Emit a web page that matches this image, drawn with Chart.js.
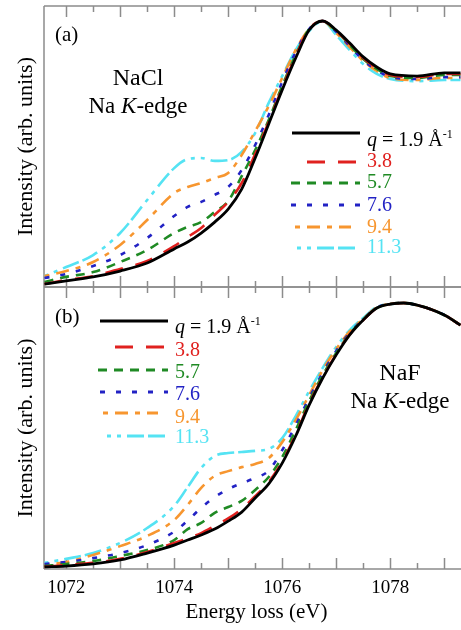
<!DOCTYPE html>
<html>
<head>
<meta charset="utf-8">
<title>Na K-edge spectra</title>
<script src="https://cdn.jsdelivr.net/npm/chart.js@4.4.1/dist/chart.umd.min.js"></script>
<style>
  html, body { margin: 0; padding: 0; background: #fff; }
  #wrap { position: relative; width: 461px; height: 630px; overflow: hidden; }
  canvas { position: absolute; left: 0; }
  #chartA { top: 0; }
  #chartB { top: 280px; }
</style>
</head>
<body>
<div id="wrap">
  <canvas id="chartA" width="461" height="300"></canvas>
  <canvas id="chartB" width="461" height="350"></canvas>
</div>
<script>
// Energy loss grids (eV)
const energyNaCl = [1071.6, 1072.0, 1072.5, 1073.0, 1073.5, 1074.0, 1074.25, 1074.5, 1074.75, 1075.0,
  1075.25, 1075.5, 1075.75, 1076.0, 1076.25, 1076.5, 1076.75, 1077.0, 1077.25, 1077.5,
  1077.75, 1078.0, 1078.5, 1079.0, 1079.3];
const energyNaF = [1071.6, 1072.0, 1072.5, 1073.0, 1073.5, 1074.0, 1074.25, 1074.5, 1074.75, 1075.0,
  1075.25, 1075.5, 1075.75, 1076.0, 1076.25, 1076.5, 1076.75, 1077.0, 1077.25, 1077.5,
  1077.75, 1078.0, 1078.25, 1078.5, 1079.0, 1079.3];

// momentum transfer q (1/Å)
const qValues = ['1.9', '3.8', '5.7', '7.6', '9.4', '11.3'];

// NaCl, normalised intensity per q
const naclQ19 = [0.011, 0.023, 0.038, 0.060, 0.090, 0.143, 0.169, 0.203, 0.244, 0.293, 0.368, 0.485, 0.613, 0.741, 0.861, 0.966, 1.000, 0.966, 0.917, 0.865, 0.827, 0.801, 0.793, 0.805, 0.805];
const naclQ38 = [0.011, 0.026, 0.041, 0.068, 0.098, 0.154, 0.188, 0.222, 0.271, 0.320, 0.391, 0.500, 0.620, 0.748, 0.868, 0.970, 1.000, 0.962, 0.914, 0.861, 0.823, 0.797, 0.789, 0.801, 0.801];
const naclQ57 = [0.019, 0.038, 0.056, 0.094, 0.139, 0.203, 0.226, 0.244, 0.282, 0.323, 0.417, 0.515, 0.628, 0.756, 0.872, 0.970, 1.000, 0.962, 0.910, 0.857, 0.820, 0.793, 0.786, 0.797, 0.797];
const naclQ76 = [0.034, 0.049, 0.079, 0.120, 0.184, 0.267, 0.301, 0.320, 0.346, 0.376, 0.440, 0.534, 0.647, 0.771, 0.883, 0.970, 1.000, 0.959, 0.906, 0.853, 0.816, 0.789, 0.782, 0.789, 0.789];
const naclQ94 = [0.041, 0.060, 0.094, 0.158, 0.252, 0.353, 0.376, 0.391, 0.410, 0.429, 0.496, 0.586, 0.680, 0.786, 0.891, 0.970, 1.000, 0.955, 0.902, 0.850, 0.812, 0.786, 0.778, 0.786, 0.786];
const naclQ113 = [0.041, 0.075, 0.120, 0.203, 0.327, 0.447, 0.481, 0.485, 0.474, 0.477, 0.508, 0.579, 0.692, 0.793, 0.891, 0.962, 1.000, 0.947, 0.891, 0.838, 0.801, 0.782, 0.774, 0.778, 0.778];

// NaF, normalised intensity per q
const nafQ19 = [0.008, 0.011, 0.019, 0.034, 0.060, 0.090, 0.109, 0.128, 0.150, 0.180, 0.214, 0.267, 0.320, 0.398, 0.500, 0.617, 0.718, 0.805, 0.880, 0.936, 0.981, 0.996, 1.000, 0.992, 0.955, 0.917];
const nafQ38 = [0.008, 0.015, 0.023, 0.038, 0.064, 0.098, 0.115, 0.135, 0.162, 0.190, 0.226, 0.274, 0.327, 0.404, 0.506, 0.622, 0.721, 0.808, 0.882, 0.936, 0.981, 0.996, 1.000, 0.992, 0.955, 0.917];
const nafQ57 = [0.011, 0.019, 0.030, 0.049, 0.071, 0.109, 0.150, 0.173, 0.211, 0.233, 0.256, 0.297, 0.346, 0.421, 0.523, 0.632, 0.729, 0.812, 0.884, 0.938, 0.981, 0.996, 1.000, 0.992, 0.955, 0.917];
const nafQ76 = [0.019, 0.026, 0.041, 0.060, 0.090, 0.140, 0.182, 0.230, 0.270, 0.300, 0.323, 0.342, 0.370, 0.447, 0.541, 0.643, 0.737, 0.820, 0.888, 0.938, 0.983, 0.996, 1.000, 0.992, 0.955, 0.917];
const nafQ94 = [0.015, 0.026, 0.053, 0.086, 0.124, 0.184, 0.241, 0.305, 0.350, 0.368, 0.383, 0.395, 0.417, 0.477, 0.560, 0.654, 0.748, 0.827, 0.893, 0.940, 0.983, 0.996, 1.000, 0.992, 0.955, 0.917];
const nafQ113 = [0.023, 0.038, 0.060, 0.098, 0.154, 0.237, 0.308, 0.380, 0.425, 0.436, 0.440, 0.444, 0.451, 0.492, 0.575, 0.669, 0.756, 0.835, 0.898, 0.944, 0.985, 0.996, 1.000, 0.992, 0.955, 0.917];

const xTickLabels = [1072, 1074, 1076, 1078];

// line styles, one per q
const colors = ['#000000', '#e0211f', '#1f8a24', '#2222c4', '#f7962f', '#55e3f3'];
const dashes = [[], [18, 13], [9, 7], [5, 11], [5, 7, 13, 7], [4, 6, 4, 6, 17, 4, 17, 6]];

const SERIF = '"Liberation Serif", "Times New Roman", serif';
const FRAME = '#8c8c8c';

function makeDatasets(energy, series) {
    return series.map((vals, i) => ({
        label: qValues[i],
        data: energy.map((e, k) => ({ x: e, y: vals[k] })),
        borderColor: colors[i],
        borderDash: dashes[i],
        borderWidth: i === 0 ? 2.8 : 2.6,
        pointRadius: 0,
        cubicInterpolationMode: 'monotone',
        fill: false
    }));
}

// draws a run of text pieces (italic / superscript) from a baseline
function drawParts(ctx, parts, x, y, align, size, color) {
    const fontFor = p => (p.italic ? 'italic ' : '') + (p.sup ? Math.round(size * 0.62) : size) + 'px ' + SERIF;
    let total = 0;
    parts.forEach(p => { ctx.font = fontFor(p); p.w = ctx.measureText(p.t).width; total += p.w; });
    let cx = align === 'center' ? x - total / 2 : x;
    ctx.fillStyle = color;
    ctx.textAlign = 'left';
    ctx.textBaseline = 'alphabetic';
    parts.forEach(p => {
        ctx.font = fontFor(p);
        ctx.fillText(p.t, cx, p.sup ? y - size * 0.42 : y);
        cx += p.w;
    });
}

const panelDecor = {
    id: 'panelDecor',
    beforeDatasetsDraw(chart) {
        const { ctx, chartArea: a, scales: { x } } = chart;
        ctx.save();
        ctx.strokeStyle = FRAME;
        ctx.lineWidth = 1.5;
        ctx.beginPath();
        ctx.moveTo(a.left, a.top); ctx.lineTo(a.left, a.bottom);
        ctx.moveTo(a.left, a.top); ctx.lineTo(a.right + 2, a.top);
        ctx.moveTo(a.left, a.bottom); ctx.lineTo(a.right + 2, a.bottom);
        // inward ticks, long on whole eV, short on half eV
        for (let e = 1072; e <= 1079; e += 0.5) {
            const px = Math.round(x.getPixelForValue(e)) + 0.5;
            const len = Number.isInteger(e) ? 11 : 6;
            ctx.moveTo(px, a.top); ctx.lineTo(px, a.top + len);
            ctx.moveTo(px, a.bottom); ctx.lineTo(px, a.bottom - len);
        }
        ctx.stroke();
        ctx.restore();
    },
    afterDraw(chart, args, opts) {
        const { ctx, chartArea: a, scales: { x } } = chart;
        ctx.save();
        // panel tag and compound name
        drawParts(ctx, [{ t: opts.tag }], 55, opts.tagY, 'left', 21, '#000');
        drawParts(ctx, [{ t: opts.compound }], opts.nameX, opts.nameY, 'center', 24, '#000');
        drawParts(ctx, [{ t: 'Na ' }, { t: 'K', italic: true }, { t: '-edge' }], opts.nameX, opts.nameY + 28, 'center', 23, '#000');
        // legend
        const lg = opts.legend;
        chart.data.datasets.forEach((ds, i) => {
            const row = lg.rows[i];
            ctx.save();
            ctx.strokeStyle = ds.borderColor;
            ctx.lineWidth = 2.8;
            ctx.setLineDash(ds.borderDash);
            ctx.beginPath();
            ctx.moveTo(row[0], row[2]);
            ctx.lineTo(row[1], row[2]);
            ctx.stroke();
            ctx.restore();
            const parts = i === 0
                ? [{ t: 'q', italic: true }, { t: ' = ' + ds.label + ' Å' }, { t: '-1', sup: true }]
                : [{ t: ds.label }];
            drawParts(ctx, parts, lg.textX, row[3], 'left', 20, ds.borderColor);
        });
        // shared energy axis under the lower panel
        if (opts.energyAxis) {
            xTickLabels.forEach(v => {
                drawParts(ctx, [{ t: String(v) }], x.getPixelForValue(v), a.bottom + 24, 'center', 19, '#000');
            });
            drawParts(ctx, [{ t: 'Energy loss (eV)' }], (a.left + a.right) / 2 + 4, a.bottom + 49, 'center', 21, '#000');
        }
        ctx.restore();
    }
};

const yTitle = {
    display: true,
    text: 'Intensity (arb. units)',
    color: '#000',
    font: { family: SERIF, size: 22 },
    padding: { top: 13, bottom: 4.6 }
};

function baseOptions(yMax) {
    return {
        responsive: false,
        animation: false,
        events: [],
        plugins: { legend: { display: false }, tooltip: { enabled: false } },
        scales: {
            x: {
                type: 'linear',
                min: 1071.59,
                max: 1079.31,
                display: false
            },
            y: {
                type: 'linear',
                min: 0,
                max: yMax,
                grid: { display: false, drawTicks: false },
                border: { display: false },
                ticks: { display: false },
                title: yTitle
            }
        }
    };
}

// (a) NaCl
const optsA = baseOptions(1.0564);
optsA.layout = { padding: { top: 6, bottom: 13, right: 0, left: 0 } };
optsA.plugins.panelDecor = {
    tag: '(a)', tagY: 41,
    compound: 'NaCl', nameX: 138, nameY: 85,
    legend: {
        textX: 367,
        rows: [[292, 360, 133, 146], [307, 358, 162, 167], [291, 360, 183, 188],
               [291, 360, 205, 211], [295, 351, 227, 233], [297, 357, 248, 253]]
    }
};
new Chart(document.getElementById('chartA'), {
    type: 'line',
    data: { datasets: makeDatasets(energyNaCl, [naclQ19, naclQ38, naclQ57, naclQ76, naclQ94, naclQ113]) },
    options: optsA,
    plugins: [panelDecor]
});

// (b) NaF, carries the shared energy axis labels
const optsB = baseOptions(1.0602);
optsB.layout = { padding: { top: 7, bottom: 61, right: 0, left: 0 } };
optsB.plugins.panelDecor = {
    tag: '(b)', tagY: 43,
    compound: 'NaF', nameX: 400, nameY: 100,
    energyAxis: true,
    legend: {
        textX: 175,
        rows: [[100, 168, 41, 53], [115, 165, 67, 76], [98, 168, 90, 98],
               [100, 168, 112, 120], [103, 158, 133, 143], [107, 165, 156, 163]]
    }
};
new Chart(document.getElementById('chartB'), {
    type: 'line',
    data: { datasets: makeDatasets(energyNaF, [nafQ19, nafQ38, nafQ57, nafQ76, nafQ94, nafQ113]) },
    options: optsB,
    plugins: [panelDecor]
});
</script>
</body>
</html>
